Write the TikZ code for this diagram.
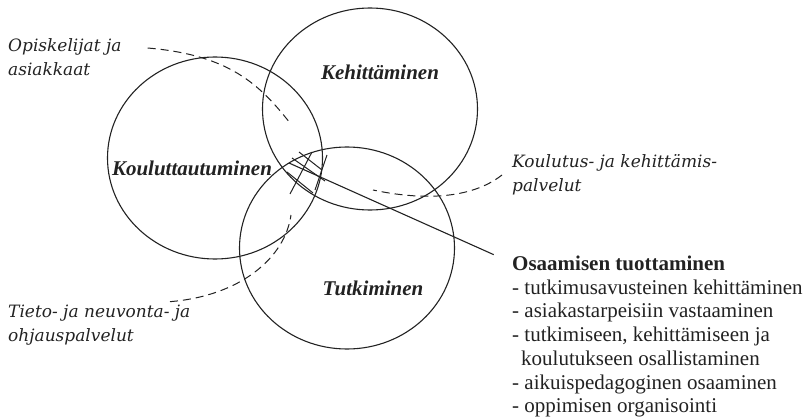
\documentclass[tikz,border=0pt]{standalone}
\usepackage{fontspec}
\setmainfont{Liberation Serif}
\newfontfamily\vennslab{DejaVu Serif}
\usetikzlibrary{shapes.geometric, calc, positioning}
\definecolor{vennink}{HTML}{222222}
\newcommand{\VennCircleFont}{\fontsize{21}{23}\selectfont\bfseries\itshape}
\newcommand{\VennSideFont}{\vennslab\itshape\fontsize{17}{24}\selectfont}
\newcommand{\VennListFont}{\fontsize{21}{23.75}\selectfont}
\tikzset{
  venn circle/.style={
    ellipse,
    draw=vennink,
    line width=1.1pt,
    minimum width=215pt,
    minimum height=202pt,
    inner sep=0pt
  },
  venn label/.style={font=\VennCircleFont, text=vennink, inner sep=0pt},
  venn side label/.style={
    font=\VennSideFont,
    text=vennink,
    align=left,
    inner sep=0pt,
    anchor=west
  },
  venn list/.style={
    font=\VennListFont,
    text=vennink,
    align=left,
    inner sep=0pt
  },
  venn dash/.style={draw=vennink, line width=1pt, dash pattern=on 8pt off 5pt},
  venn hatch/.style={draw=vennink, line width=1pt},
  venn pointer/.style={draw=vennink, line width=1.1pt}
}

\begin{document}
\begin{tikzpicture}[x=1pt,y=-1pt]
\useasboundingbox (0,0) rectangle (806,420);

\node[venn circle] (kehi) at (370,109) {};
\node[venn circle] (koul) at (215,158) {};
\node[venn circle] (tutk) at (347,248) {};

\node[venn label] (kehilabel) at (380,72) {Kehittäminen};
\node[venn label] (koullabel) at (192,168) {Kouluttautuminen};
\node[venn label] (tutklabel) at (373,288) {Tutkiminen};

\node[venn side label] (opisk) at (8,57) {Opiskelijat ja\\asiakkaat};
\node[venn side label] (tieto) at (8,325) {Tieto- ja neuvonta- ja\\ohjauspalvelut};
\node[venn side label] (kopal) at (512,175) {Koulutus- ja kehittämis-\\palvelut};

\node[venn list, font=\VennListFont\bfseries, anchor=base west] (osaam) at (512,270)
  {Osaamisen tuottaminen};
\node[venn list, anchor=north west] (osaamlist) at ($(osaam.base west)+(0,9.4)$)
  {- tutkimusavusteinen kehittäminen\\
   - asiakastarpeisiin vastaaminen\\
   - tutkimiseen, kehittämiseen ja\\
   \hspace*{9pt}koulutukseen osallistaminen\\
   - aikuispedagoginen osaaminen\\
   - oppimisen organisointi};

\coordinate (opiskend) at (290,123);
\coordinate (kopalend) at (373,190);
\coordinate (tietoend) at (291,215);
\coordinate (hub) at (289,163);

% dashed leaders
\draw[venn dash] ([shift={(26,-9)}]opisk.east) .. controls (230,55) and (260,85) .. (opiskend);
\draw[venn dash] ([xshift=-10]kopal.west) .. controls (470,200) and (420,200) .. (kopalend);
\draw[venn dash] ([shift={(162,-3)}]tieto.north west) .. controls (240,296) and (285,258) .. (tietoend);

% hatching in the common area
\draw[venn hatch] (299,152) -- (322,170) (292,158) -- (325,181) (287,172) -- (313,193)
  (290,194) -- (312,152) (315,190) -- (327,155);

\draw[venn pointer, shorten >=20pt] (hub) -- (osaam.west);
\end{tikzpicture}
\end{document}
